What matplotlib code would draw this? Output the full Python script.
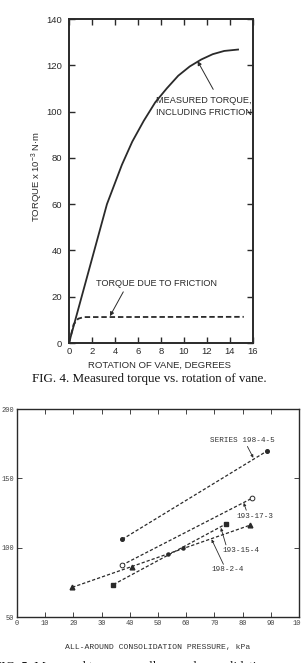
import matplotlib
matplotlib.use("Agg")
import matplotlib.pyplot as plt

# ---- Fig. 4 data: torque vs rotation of vane
rot_measured = [0, 1.1, 2.2, 3.3, 4.6, 5.5, 6.5, 7.5, 8.5, 9.5, 10.5, 11.5, 12.5, 13.5, 14.7]
torque_measured = [0, 20, 40, 60, 77, 87, 96, 104, 110, 115.5, 119.5, 122.5, 124.8, 126.2, 126.8]
rot_friction = [0, 0.1, 0.4, 0.8, 1.3, 15.2]
torque_friction = [0, 2, 8, 10.5, 11.2, 11.3]

# ---- Fig. 5 data: torque vs consolidation pressure
s198_4_5_x = [37.3, 88.5]
s198_4_5_y = [106, 169.5]
s193_17_3_x = [37.2, 83.4]
s193_17_3_y = [87.4, 135.7]
s193_15_4_x = [34.2, 74.0]
s193_15_4_y = [73.4, 117.0]
s198_2_4_x = [19.6, 40.7, 82.6]
s198_2_4_y = [71.4, 86.4, 116.2]
mid_x = [53.4, 59.0]
mid_y = [95.2, 100.0]

W, H = 301, 663
INK = "#2a2a2a"
sans = ["Liberation Sans", "DejaVu Sans"]
mono = ["Liberation Mono", "DejaVu Sans Mono"]
serif = ["Liberation Serif", "DejaVu Serif"]

plt.rcParams["mathtext.default"] = "regular"
plt.rcParams["mathtext.fontset"] = "custom"
plt.rcParams["mathtext.rm"] = "Liberation Sans"

fig = plt.figure(figsize=(W / 100, H / 100), dpi=100)

def box(l, t, r, b):
    return [l / W, 1 - b / H, (r - l) / W, (b - t) / H]

def fx(px):
    return px / W

def fy(py):
    return 1 - py / H

# ---------------- top chart
ax1 = fig.add_axes(box(69, 19, 253, 343))
ax1.plot(rot_measured, torque_measured, color=INK, lw=1.3)
ax1.plot(rot_friction, torque_friction, color=INK, lw=1.3, ls=(0, (3, 1.6)))
ax1.set_xlim(0, 16)
ax1.set_ylim(0, 140)
ax1.set_xticks(range(0, 17, 2))
ax1.set_yticks(range(0, 141, 20))
ax1.tick_params(direction="in", length=4, width=1, top=True, right=True,
                labelsize=6.8, colors=INK)
ax1.tick_params(axis="y", pad=5)
ax1.tick_params(axis="x", pad=3)
for t in ax1.get_xticklabels() + ax1.get_yticklabels():
    t.set_family(sans)
for s in ax1.spines.values():
    s.set_linewidth(1.4)
    s.set_color(INK)

arw1 = dict(arrowstyle="-|>", color=INK, lw=0.7, mutation_scale=6, shrinkA=0, shrinkB=0)
ax1.text(11.75, 102.3, "MEASURED TORQUE,\nINCLUDING FRICTION", ha="center", va="center",
         fontsize=6.6, family=sans, color=INK, linespacing=1.45)
ax1.annotate("", xy=(11.18, 121.8), xytext=(12.54, 109.6), arrowprops=arw1)
ax1.text(7.62, 25.7, "TORQUE DUE TO FRICTION", ha="center", va="center",
         fontsize=6.6, family=sans, color=INK)
ax1.annotate("", xy=(3.56, 11.6), xytext=(4.72, 22.1), arrowprops=arw1)

fig.text(fx(37), fy(176), "TORQUE x 10$^{-3}$ N·m", rotation=90, ha="center",
         va="center", fontsize=6.8, family=sans, color=INK)
fig.text(fx(160), fy(365), "ROTATION OF VANE, DEGREES", ha="center",
         va="center", fontsize=6.8, family=sans, color=INK)
fig.text(fx(149), fy(379), "FIG. 4. Measured torque vs. rotation of vane.",
         ha="center", va="center", fontsize=9.4, family=serif, color="#111111")

# ---------------- bottom chart
ax2 = fig.add_axes(box(17, 409, 299, 617))
dash = (0, (2.6, 1.6))
ax2.plot(s198_4_5_x, s198_4_5_y, color=INK, lw=0.9, ls=dash, marker="o", ms=2.6)
ax2.plot(s193_17_3_x, s193_17_3_y, color=INK, lw=0.9, ls=dash, marker="o",
         ms=3.4, mfc="white", mew=0.7)
ax2.plot(s193_15_4_x, s193_15_4_y, color=INK, lw=0.9, ls=dash, marker="s", ms=3.4)
ax2.plot(s198_2_4_x, s198_2_4_y, color=INK, lw=0.9, ls=dash, marker="^", ms=3.4)
ax2.plot(mid_x, mid_y, color=INK, ls="none", marker="o", ms=2.2)
ax2.set_xlim(0, 100)
ax2.set_ylim(50, 200)
ax2.set_xticks(range(0, 101, 10))
ax2.set_yticks([50, 100, 150, 200])
ax2.tick_params(direction="in", length=3.5, width=0.7, top=True, right=True,
                labelsize=5, colors="#444444", pad=2)
for t in ax2.get_xticklabels() + ax2.get_yticklabels():
    t.set_family(mono)
for s in ax2.spines.values():
    s.set_linewidth(1.0)
    s.set_color(INK)

lab = dict(ha="center", va="center", fontsize=5.5, family=mono, color="#333333")
arw = dict(arrowstyle="-|>", color=INK, lw=0.6, mutation_scale=4, shrinkA=0, shrinkB=0)
ax2.text(79.8, 177.5, "SERIES 198-4-5", **lab)
ax2.annotate("", xy=(83.8, 164.8), xytext=(81.7, 173.0), arrowprops=arw)
ax2.text(84.4, 122.8, "193-17-3", **lab)
ax2.annotate("", xy=(80.4, 132.3), xytext=(81.3, 127.0), arrowprops=arw)
ax2.text(79.4, 97.6, "193-15-4", **lab)
ax2.annotate("", xy=(72.3, 114.3), xytext=(74.1, 102.0), arrowprops=arw)
ax2.text(74.7, 84.0, "198-2-4", **lab)
ax2.annotate("", xy=(69.0, 106.0), xytext=(73.2, 88.0), arrowprops=arw)

fig.text(fx(158), fy(648), "ALL-AROUND CONSOLIDATION PRESSURE, kPa", ha="center",
         va="center", fontsize=5.9, family=mono, color="#333333")
fig.text(fx(-6), fy(667), "FIG. 5. Measured torque vs. all-around consolidation pressure.",
         ha="left", va="center", fontsize=9.4, family=serif, color="#111111")

fig.savefig("out.png", dpi=100)
